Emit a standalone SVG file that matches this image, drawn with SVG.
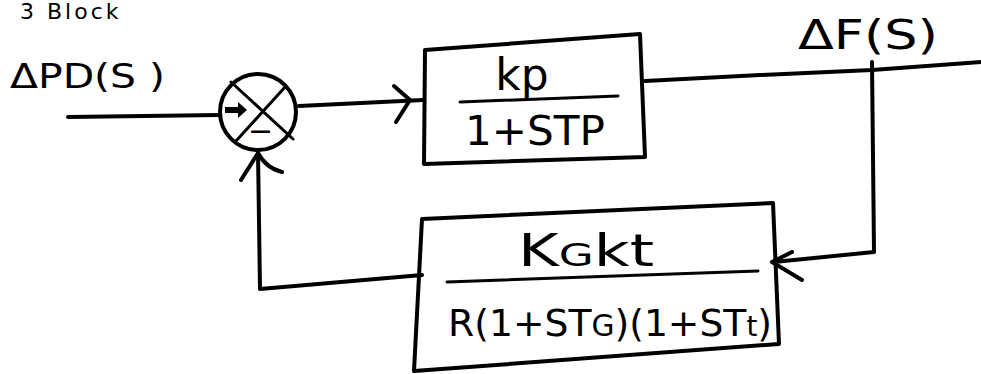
<svg xmlns="http://www.w3.org/2000/svg" width="981" height="374" viewBox="0 0 981 374">
  <style>
    .ink { fill: none; stroke: #000; stroke-width: 4; stroke-linecap: round; stroke-linejoin: round; }
    .thin { fill: none; stroke: #000; stroke-width: 3; stroke-linecap: round; stroke-linejoin: round; }
    .lbl { font-family: "DejaVu Sans", "Liberation Sans", sans-serif; fill: #000; font-weight: normal; }
  </style>
  <rect width="981" height="374" fill="#fff"/>

  <!-- heading -->
  <text class="lbl" x="20" y="19" font-size="22" letter-spacing="3">3 Block</text>

  <!-- input label -->
  <text class="lbl" x="10" y="88" font-size="34" textLength="155" lengthAdjust="spacingAndGlyphs">ΔPD(S )</text>

  <!-- summing junction -->
  <g id="sum">
    <ellipse class="ink" cx="258" cy="112" rx="38" ry="38"/>
    <path class="thin" d="M231 82 L293 139"/>
    <path class="thin" d="M236 141 L286 86"/>
    <path d="M225 107 L238 107 L238 102 L247 110 L238 118 L238 113 L225 113 Z" fill="#000"/>
    <text class="lbl" x="248" y="141" font-size="30" font-weight="bold">−</text>
  </g>

  <!-- plant block -->
  <g id="plant">
    <path class="ink" d="M425 50 L640 34 L645 157 L424 164 Z"/>
    <text class="lbl" x="522" y="90" font-size="44" text-anchor="middle">kp</text>
    <path class="thin" d="M460 102 L618 96"/>
    <text class="lbl" x="465" y="145" font-size="40" textLength="140" lengthAdjust="spacingAndGlyphs">1+STP</text>
  </g>

  <!-- output label -->
  <text class="lbl" x="798" y="49" font-size="40" textLength="140" lengthAdjust="spacingAndGlyphs">ΔF(S)</text>

  <!-- feedback block -->
  <g id="feedback">
    <path class="ink" d="M422 219 L773 203 L779 344 L414 371 Z"/>
    <text class="lbl" x="518" y="266" font-size="44" textLength="136" lengthAdjust="spacingAndGlyphs">K<tspan font-size="32">G</tspan>kt</text>
    <path class="thin" d="M447 282 L758 271"/>
    <text class="lbl" x="448" y="336" font-size="38" textLength="324" lengthAdjust="spacingAndGlyphs">R(1+ST<tspan font-size="30">G</tspan>)(1+ST<tspan font-size="28">t</tspan>)</text>
  </g>

  <!-- connectors -->
  <g id="connectors">
    <!-- input to junction -->
    <path class="ink" d="M68 117 L220 115"/>
    <!-- junction to plant -->
    <path class="ink" d="M299 106 L423 100"/>
    <path class="ink" d="M394 86 L410 100 L396 122"/>
    <!-- plant output -->
    <path class="ink" d="M645 81 L760 75 L872 70 L981 62"/>
    <!-- take-off down to feedback block -->
    <path class="ink" d="M872 62 L874 252 L774 262"/>
    <path class="ink" d="M792 252 L772 262 L802 280"/>
    <!-- feedback block back to junction -->
    <path class="ink" d="M422 275 L260 289 L258 152"/>
    <path class="ink" d="M241 180 L258 153 Q266 168 282 172"/>
  </g>
</svg>
